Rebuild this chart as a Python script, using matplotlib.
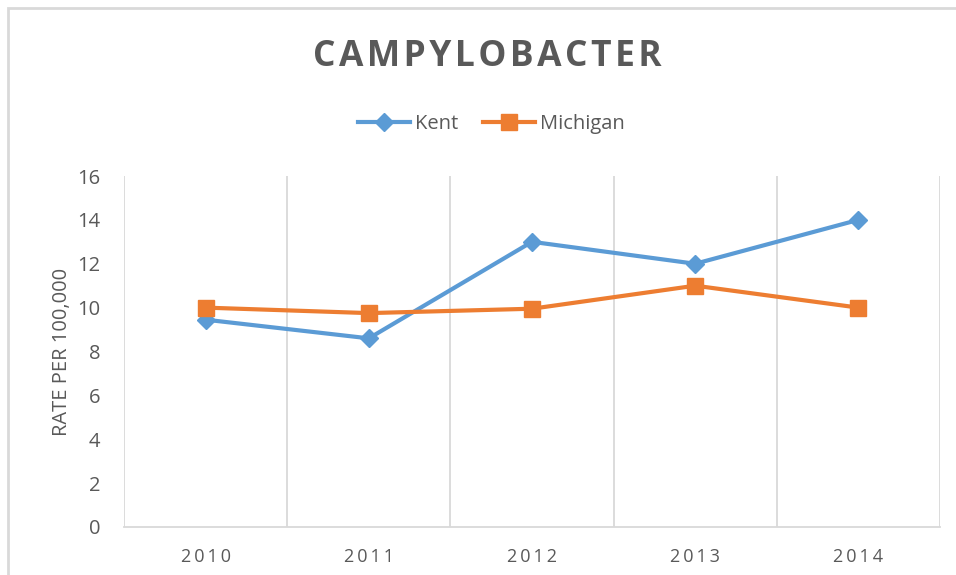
import matplotlib.pyplot as plt
from matplotlib.patches import Rectangle

# data
years = ['2010', '2011', '2012', '2013', '2014']
kent = [9.45, 8.6, 13.0, 12.0, 14.0]
michigan = [10.0, 9.75, 9.95, 11.0, 10.0]
y_ticks = [0, 2, 4, 6, 8, 10, 12, 14, 16]

TEXT = '#595959'
GRID = '#D9D9D9'
plt.rcParams['font.family'] = ['Open Sans', 'DejaVu Sans']

fig = plt.figure(figsize=(9.56, 5.75), dpi=100)
ax = fig.add_axes([124 / 956, 1 - 527 / 575, (940 - 124) / 956, (527 - 176) / 575])

x = list(range(len(years)))
ax.plot(x, kent, color='#5B9BD5', lw=3, marker='D', ms=9, label='Kent')
ax.plot(x, michigan, color='#ED7D31', lw=3, marker='s', ms=11, label='Michigan')

ax.set_xlim(-0.5, len(years) - 0.5)
ax.set_ylim(0, 16)
ax.set_yticks(y_ticks)
ax.set_xticks(x)
ax.set_xticklabels(['\u2009'.join(y) for y in years], fontsize=13, color=TEXT)
ax.tick_params(axis='y', labelsize=14.5, colors=TEXT, length=0, pad=17)
ax.tick_params(axis='x', length=0, pad=15)

# vertical gridlines between categories
for b in [i - 0.5 for i in range(len(years) + 1)]:
    ax.axvline(b, color=GRID, lw=1.3, zorder=0)

for s in ['top', 'right', 'left']:
    ax.spines[s].set_visible(False)
ax.spines['bottom'].set_color(GRID)
ax.spines['bottom'].set_linewidth(1.3)

ax.set_ylabel('RATE PER 100,000', fontsize=14.5, color=TEXT, labelpad=4)

fig.text(0.510, 1 - 57 / 575, 'C A M P Y L O B A C T E R'.replace(' ', '\u200a'),
         ha='center', va='center', fontsize=25.5, fontweight='bold', color=TEXT)

fig.legend(loc='center', bbox_to_anchor=(0.514, 1 - 124 / 575), ncol=2, frameon=False,
           fontsize=14.5, labelcolor=TEXT, handlelength=2.6, columnspacing=1.2,
           handletextpad=0.25)

# light chart border (cut off at right and bottom in the original)
fig.patches.append(Rectangle((8 / 956, -0.1), 1.2, 1.1 - 8 / 575,
                             transform=fig.transFigure, fill=False,
                             edgecolor=GRID, lw=2))

fig.savefig('out.png', dpi=100)
